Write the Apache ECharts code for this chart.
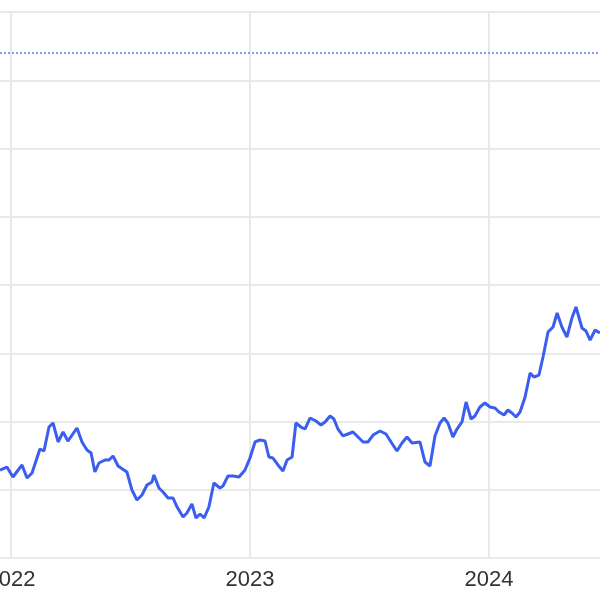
<!DOCTYPE html>
<html>
<head>
<meta charset="utf-8">
<script src="https://cdn.jsdelivr.net/npm/echarts@6/dist/echarts.min.js"></script>
<style>
html,body{margin:0;padding:0;background:#fff;overflow:hidden;width:600px;height:600px}
#wrap{position:relative;width:600px;height:600px;overflow:hidden}
#c{position:absolute;left:-228px;top:0;width:956px;height:600px}
</style>
</head>
<body>
<div id="wrap"><div id="c"></div></div>
<script>
// x positions in decimal years
const years = [
2021.954,2021.983,2022.008,2022.046,2022.067,2022.088,2022.121,2022.138,2022.159,2022.176,
2022.197,2022.218,2022.238,2022.276,2022.297,2022.318,2022.335,2022.351,2022.368,2022.393,
2022.410,2022.427,2022.448,2022.485,2022.506,2022.527,2022.548,2022.569,2022.590,2022.598,
2022.619,2022.636,2022.657,2022.678,2022.695,2022.720,2022.736,2022.757,2022.774,2022.791,
2022.808,2022.828,2022.849,2022.874,2022.887,2022.908,2022.929,2022.954,2022.979,2023.000,
2023.021,2023.042,2023.063,2023.079,2023.096,2023.117,2023.138,2023.155,2023.176,2023.192,
2023.213,2023.230,2023.251,2023.276,2023.297,2023.314,2023.335,2023.351,2023.368,2023.389,
2023.410,2023.431,2023.452,2023.473,2023.494,2023.515,2023.544,2023.569,2023.590,2023.615,
2023.636,2023.657,2023.678,2023.711,2023.732,2023.753,2023.774,2023.795,2023.812,2023.828,
2023.849,2023.866,2023.887,2023.904,2023.925,2023.941,2023.962,2023.983,2024.004,2024.025,
2024.042,2024.063,2024.079,2024.096,2024.113,2024.130,2024.151,2024.172,2024.188,2024.209,
2024.226,2024.247,2024.268,2024.285,2024.305,2024.326,2024.347,2024.364,2024.389,2024.406,
2024.423,2024.444,2024.464
];
const values = [
12.89,13.33,11.87,13.63,11.72,12.45,15.97,15.68,19.19,19.78,
17.00,18.46,17.14,19.05,17.00,15.82,15.38,12.60,13.92,14.36,
14.36,14.95,13.48,12.60,9.96,8.50,9.23,10.70,11.14,12.16,
10.26,9.67,8.79,8.79,7.47,6.01,6.59,7.91,5.86,6.45,
5.86,7.47,10.99,10.26,10.55,12.01,12.01,11.87,12.89,14.65,
17.00,17.29,17.14,14.80,14.65,13.63,12.75,14.36,14.80,19.78,
19.19,18.90,20.51,20.07,19.49,19.93,20.81,20.37,18.90,17.88,
18.17,18.46,17.73,17.00,17.00,18.02,18.61,18.17,17.00,15.68,
16.85,17.73,16.85,17.00,14.07,13.48,17.88,19.78,20.51,19.78,
17.73,18.90,19.93,22.86,20.37,20.81,22.12,22.71,22.12,21.98,
21.39,20.95,21.68,21.25,20.66,21.39,23.59,27.11,26.52,26.81,
29.45,33.11,33.85,35.90,33.85,32.38,35.16,36.78,33.70,33.26,
31.94,33.41,32.97
];
const referenceLevel = 74.1;
const yearRange = [2021, 2025];
const valueRange = [0, 80];

const chart = echarts.init(document.getElementById('c'), null, {renderer: 'canvas'});
const gridColor = '#e9e9e9';
chart.setOption({
  animation: false,
  backgroundColor: '#ffffff',
  grid: {left: 0, right: 0, top: 12, bottom: 42, containLabel: false, outerBoundsMode: 'none'},
  xAxis: {
    type: 'value',
    min: yearRange[0], max: yearRange[1], interval: 1,
    axisLine: {show: true, lineStyle: {color: gridColor, width: 2}},
    axisTick: {show: false},
    splitLine: {show: true, lineStyle: {color: gridColor, width: 2}},
    axisLabel: {
      color: '#333333', fontSize: 22, margin: 11,
      fontFamily: 'Liberation Sans, Arial, sans-serif',
      formatter: v => String(v)
    }
  },
  yAxis: {
    type: 'value',
    min: valueRange[0], max: valueRange[1], interval: 10,
    axisLine: {show: false},
    axisTick: {show: false},
    axisLabel: {show: false},
    splitLine: {show: true, lineStyle: {color: gridColor, width: 2}}
  },
  series: [{
    type: 'line',
    data: years.map((y, i) => [y, values[i]]),
    showSymbol: false,
    symbol: 'none',
    lineStyle: {color: '#3b5ef0', width: 3},
    itemStyle: {color: '#3b5ef0'},
    markLine: {
      silent: true,
      symbol: 'none',
      label: {show: false},
      lineStyle: {color: '#7fa2ee', type: 'dotted', width: 2},
      data: [{yAxis: referenceLevel}]
    }
  }]
});
</script>
</body>
</html>
